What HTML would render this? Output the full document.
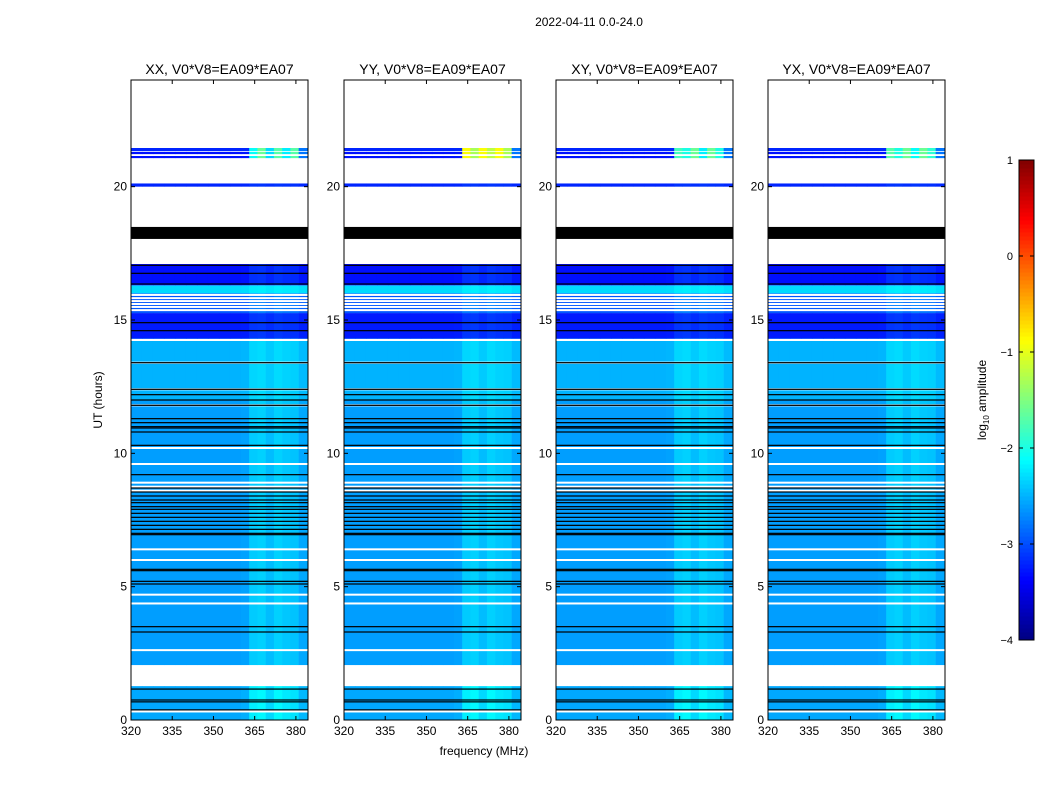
<!DOCTYPE html>
<html><head><meta charset="utf-8">
<style>
html,body{margin:0;padding:0;background:#fff;}
svg{display:block;font-family:"Liberation Sans",sans-serif;}
</style></head>
<body>
<svg id="fig" width="1050" height="800" viewBox="0 0 1050 800" xmlns="http://www.w3.org/2000/svg">
<text x="589" y="26" font-size="12" text-anchor="middle">2022-04-11 0.0-24.0</text>
<text x="484" y="755" font-size="12" text-anchor="middle">frequency (MHz)</text>
<text transform="translate(102,400) rotate(-90)" font-size="12" text-anchor="middle">UT (hours)</text>
<g id="panels"></g>
<g id="cbar"></g>
<text transform="translate(986,400) rotate(-90)" font-size="12" text-anchor="middle">log<tspan font-size="8" dy="3">10</tspan><tspan dy="-3"> amplitude</tspan></text>
</svg>
<script>
// ---- data ----
const panelTitles = ["XX, V0*V8=EA09*EA07","YY, V0*V8=EA09*EA07","XY, V0*V8=EA09*EA07","YX, V0*V8=EA09*EA07"];
const xTicks = [320,335,350,365,380];
const yTicks = [0,5,10,15,20];
const cbTicks = [1,0,-1,-2,-3,-4];
// time bands: start hour, end hour, mean log10 amplitude, frequency-feature gain
const bandStart = [0,    1.27, 2.06, 12.0, 14.3, 15.26, 16.0, 16.3, 20.0, 21.07, 21.22, 21.33];
const bandEnd   = [1.27, 2.06, 12.0, 14.3, 15.26, 16.0, 16.3, 17.1, 20.12, 21.15, 21.3, 21.45];
const bandLevel = [-2.55, null, -2.6, -2.5, -3.25, -2.95, -2.3, -3.3, -3.2, -3.3, -3.3, -3.2];
const bandGain  = [1.6,  0,    1.0,  0.8,  0.6,  0.8,  0.4,  0.7,  0.3,  0.5,  0.5,  0.5];
// frequency bins (MHz) and offset profile
const freqBins   = [320,324,328,332,336,340,344,348,352,356,360,363,366,369,372,375,378,381];
const freqOffset = [0,  0,  0,  0,  0,  0,  0,  0,  0,  0,  0.02,0.22,0.25,0.15,0.25,0.2,0.18,0.05];
// top (21.07-21.45 h) band peak values per panel for the 363-381 bins
const topPeakXX = [-2.1,-1.6,-2.3,-1.7,-2.2,-1.7,-2.8];
const topPeakYY = [-0.9,-1.3,-0.9,-1.2,-0.9,-1.3,-2.8];
const topPeakXY = [-1.8,-2.0,-1.6,-2.2,-1.6,-2.0,-2.8];
const topPeakYX = [-1.7,-2.0,-1.6,-2.1,-1.6,-1.9,-2.8];
const topPeaks = [topPeakXX, topPeakYY, topPeakXY, topPeakYX];
// white (no-data) gaps and black flagged lines, in hours
const whiteGaps = [0.32,2.62,4.37,4.7,6.0,6.4,8.6,8.75,8.9,9.6,10.2,11.8,12.4,13.4,14.25,15.37,15.49,15.6,15.71,15.82,15.94];
const blackLines = [0.38,0.68,0.75,1.16,3.3,3.5,5.1,5.2,5.6,5.65,6.95,7.0,7.15,7.3,7.45,7.6,7.75,7.9,8.0,8.15,8.25,8.4,8.55,8.7,9.2,10.3,10.8,10.95,11.0,11.15,11.3,11.8,12.0,12.2,12.4,13.4,14.6,14.9,16.35,16.75,17.05];
const blackBlockStart = [18.04];
const blackBlockEnd = [18.49];
const panelX = [131,344,556,768];

// ---- helpers ----
const NS="http://www.w3.org/2000/svg";
const PW=177, PT=80, PB=720;
function clip(v){return Math.max(0,Math.min(1,v));}
function jet(v){const t=clip((v+4)/5);const r=clip(1.5-Math.abs(4*t-3)),g=clip(1.5-Math.abs(4*t-2)),b=clip(1.5-Math.abs(4*t-1));return `rgb(${Math.round(r*255)},${Math.round(g*255)},${Math.round(b*255)})`;}
function yS(h){return PB-(h/24)*(PB-PT);}
function xS(px,f){return px+(f-320)*PW/64.4;}
function mk(tag,attrs,parent){const e=document.createElementNS(NS,tag);for(const k in attrs)e.setAttribute(k,attrs[k]);parent.appendChild(e);return e;}

const panels=document.getElementById('panels');
panelX.forEach((px,pi)=>{
  const g=mk('g',{},panels);
  
  
  const hm=mk('g',{},g);
  
  
  const fEnd=320+64.4;
  bandStart.forEach((hs,bi)=>{
    const lv=bandLevel[bi]; if(lv===null) return;
    const y0=yS(bandEnd[bi]), y1=yS(hs);
    freqBins.forEach((f,fi)=>{
      const f2=fi+1<freqBins.length?freqBins[fi+1]:fEnd;
      let v=lv+freqOffset[fi]*bandGain[bi];
      if(bi>=9 && fi>=11) v=topPeaks[pi][fi-11];
      const r=mk('rect',{x:xS(px,f),y:y0,width:xS(px,f2)-xS(px,f)+0.3,height:y1-y0,fill:jet(v)},hm);
      
      
    });
  });
  whiteGaps.forEach(h=>{const r=mk('rect',{x:px,y:yS(h)-1,width:PW,height:2,fill:'#fff'},hm);
    
    });
  blackLines.forEach(h=>{const r=mk('rect',{x:px,y:yS(h)-0.6,width:PW,height:1.2,fill:'#000'},hm);
    
    });
  blackBlockStart.forEach((h,i)=>{const r=mk('rect',{x:px,y:yS(blackBlockEnd[i]),width:PW,height:yS(h)-yS(blackBlockEnd[i]),fill:'#000'},hm);
    
    });
  const fr=mk('rect',{x:px,y:PT,width:PW,height:PB-PT,fill:'none',stroke:'#000','stroke-width':1},g);
  
  
  const t=mk('text',{x:px+PW/2,y:74,'font-size':14,'text-anchor':'middle'},g);
  t.textContent=panelTitles[pi];
  
  
  xTicks.forEach(f=>{const x=xS(px,f);
    mk('line',{x1:x,y1:PB,x2:x,y2:PB-4,stroke:'#000'},g);
    mk('line',{x1:x,y1:PT,x2:x,y2:PT+4,stroke:'#000'},g);
    const l=mk('text',{x:x,y:PB+15,'font-size':12,'text-anchor':'middle'},g);l.textContent=f;
    
    });
  yTicks.forEach(h=>{const y=yS(h);
    mk('line',{x1:px,y1:y,x2:px+4,y2:y,stroke:'#000'},g);
    mk('line',{x1:px+PW,y1:y,x2:px+PW-4,y2:y,stroke:'#000'},g);
    const l=mk('text',{x:px-4,y:y+4,'font-size':12,'text-anchor':'end'},g);l.textContent=h;
    
    });
});

// colorbar
const cb=document.getElementById('cbar');
const CX=1019,CW=15,CT=160,CBt=640;
for(let i=0;i<120;i++){const v=-4+5*(i+0.5)/120;const y=CBt-(i+1)*(CBt-CT)/120;
  mk('rect',{x:CX,y:y,width:CW,height:(CBt-CT)/120+0.5,fill:jet(v)},cb);}
mk('rect',{x:CX,y:CT,width:CW,height:CBt-CT,fill:'none',stroke:'#000'},cb);
cbTicks.forEach(v=>{const y=CBt-(v+4)/5*(CBt-CT);
  mk('line',{x1:CX,y1:y,x2:CX+4,y2:y,stroke:'#000'},cb);
  mk('line',{x1:CX+CW,y1:y,x2:CX+CW-4,y2:y,stroke:'#000'},cb);
  const l=mk('text',{x:CX-6,y:y+4,'font-size':11,'text-anchor':'end'},cb);
  l.textContent=v<0?'\u2212'+Math.abs(v):String(v);
  
  });
</script>
</body></html>
